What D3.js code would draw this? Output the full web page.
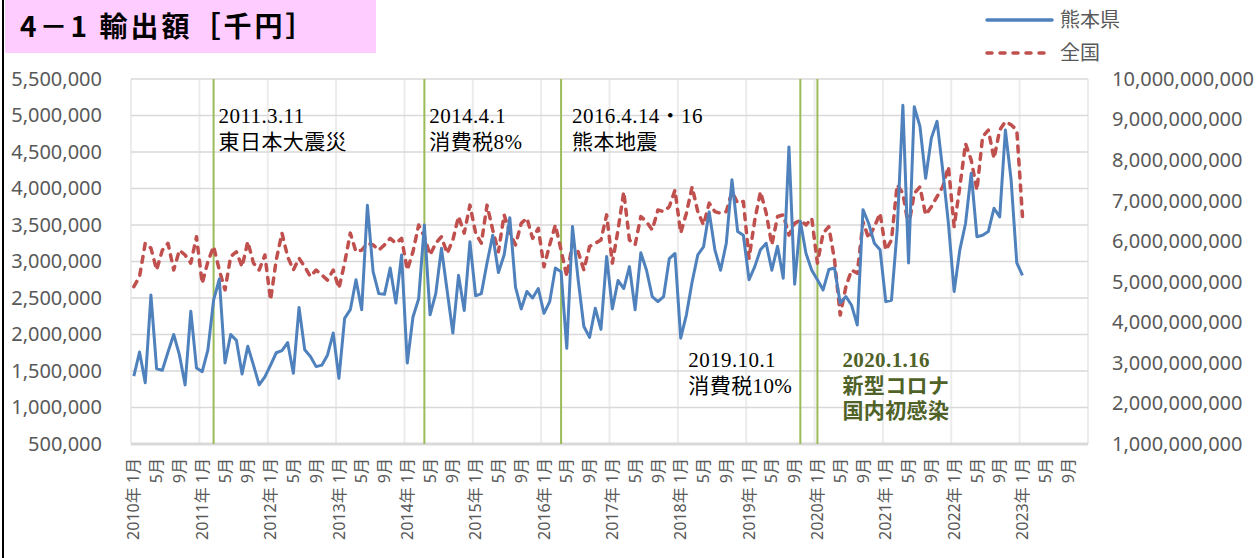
<!DOCTYPE html>
<html>
<head>
<meta charset="utf-8">
<script src="https://cdn.jsdelivr.net/npm/d3@7"></script>
<style>
  body { margin: 0; background: #ffffff; }
  svg { display: block; }
</style>
</head>
<body>
<div id="chart"></div>
<script>
// categories: one per month, 2010/1 .. 2023/12
var years        = [2010, 2011, 2012, 2013, 2014, 2015, 2016, 2017, 2018, 2019, 2020, 2021, 2022, 2023];
var months       = [1, 2, 3, 4, 5, 6, 7, 8, 9, 10, 11, 12];
var label_months = [1, 5, 9];

// 熊本県 (left axis, 千円), monthly from 2010/1 to 2023/1
var kumamoto = [
  1.43e6, 1.76e6, 1.34e6, 2.54e6, 1.53e6, 1.51e6, 1.76e6, 2.00e6, 1.72e6, 1.31e6, 2.32e6, 1.54e6,
  1.49e6, 1.79e6, 2.47e6, 2.76e6, 1.61e6, 2.00e6, 1.92e6, 1.46e6, 1.84e6, 1.58e6, 1.31e6, 1.42e6,
  1.58e6, 1.75e6, 1.78e6, 1.89e6, 1.47e6, 2.37e6, 1.79e6, 1.70e6, 1.56e6, 1.58e6, 1.72e6, 2.02e6,
  1.40e6, 2.22e6, 2.34e6, 2.75e6, 2.34e6, 3.77e6, 2.86e6, 2.56e6, 2.55e6, 2.91e6, 2.43e6, 3.09e6,
  1.61e6, 2.24e6, 2.49e6, 3.50e6, 2.27e6, 2.56e6, 3.18e6, 2.60e6, 2.02e6, 2.81e6, 2.33e6, 3.27e6,
  2.53e6, 2.56e6, 2.98e6, 3.36e6, 2.85e6, 3.09e6, 3.60e6, 2.65e6, 2.35e6, 2.59e6, 2.50e6, 2.63e6,
  2.29e6, 2.45e6, 2.91e6, 2.86e6, 1.81e6, 3.48e6, 2.75e6, 2.11e6, 1.96e6, 2.36e6, 2.07e6, 3.07e6,
  2.35e6, 2.74e6, 2.63e6, 2.93e6, 2.34e6, 3.12e6, 2.88e6, 2.52e6, 2.45e6, 2.52e6, 3.04e6, 3.11e6,
  1.95e6, 2.27e6, 2.72e6, 3.09e6, 3.20e6, 3.68e6, 3.16e6, 2.88e6, 3.25e6, 4.12e6, 3.41e6, 3.36e6,
  2.75e6, 2.93e6, 3.16e6, 3.25e6, 2.88e6, 3.21e6, 2.77e6, 4.57e6, 2.69e6, 3.55e6, 3.11e6, 2.88e6,
  2.75e6, 2.61e6, 2.89e6, 2.91e6, 2.43e6, 2.52e6, 2.40e6, 2.13e6, 3.71e6, 3.52e6, 3.25e6, 3.16e6,
  2.45e6, 2.47e6, 3.43e6, 5.14e6, 2.98e6, 5.12e6, 4.85e6, 4.14e6, 4.69e6, 4.92e6, 4.25e6, 3.52e6,
  2.59e6, 3.16e6, 3.52e6, 4.21e6, 3.34e6, 3.36e6, 3.41e6, 3.73e6, 3.61e6, 4.80e6, 4.12e6, 2.98e6,
  2.81e6
];

// 全国 (right axis, 千円), monthly from 2010/1 to 2023/1
var zenkoku = [
  4.88e9, 5.13e9, 5.95e9, 5.83e9, 5.29e9, 5.78e9, 5.95e9, 5.29e9, 5.78e9, 5.66e9, 5.46e9, 6.11e9,
  4.96e9, 5.50e9, 5.87e9, 5.29e9, 4.80e9, 5.62e9, 5.74e9, 5.37e9, 5.99e9, 5.46e9, 5.29e9, 5.66e9,
  4.55e9, 5.54e9, 6.20e9, 5.62e9, 5.29e9, 5.58e9, 5.37e9, 5.13e9, 5.29e9, 5.17e9, 5.04e9, 5.29e9,
  4.84e9, 5.46e9, 6.20e9, 5.74e9, 5.78e9, 5.95e9, 5.91e9, 5.78e9, 5.91e9, 6.07e9, 5.95e9, 6.07e9,
  5.29e9, 5.74e9, 6.40e9, 6.11e9, 5.66e9, 5.95e9, 6.11e9, 5.70e9, 6.03e9, 6.61e9, 6.20e9, 6.89e9,
  6.20e9, 5.95e9, 6.89e9, 6.28e9, 5.74e9, 6.65e9, 6.20e9, 5.91e9, 6.44e9, 6.57e9, 6.07e9, 6.32e9,
  5.37e9, 5.91e9, 6.40e9, 5.78e9, 5.13e9, 5.95e9, 5.74e9, 5.29e9, 5.87e9, 5.95e9, 6.03e9, 6.65e9,
  5.46e9, 6.28e9, 7.22e9, 6.03e9, 5.91e9, 6.61e9, 6.48e9, 6.28e9, 6.77e9, 6.73e9, 6.85e9, 7.26e9,
  6.20e9, 6.69e9, 7.34e9, 6.73e9, 6.40e9, 6.94e9, 6.73e9, 6.69e9, 6.73e9, 7.22e9, 6.94e9, 6.98e9,
  5.58e9, 6.52e9, 7.22e9, 6.70e9, 5.91e9, 6.61e9, 6.65e9, 6.15e9, 6.44e9, 6.52e9, 6.40e9, 6.57e9,
  5.46e9, 6.20e9, 6.36e9, 5.54e9, 4.18e9, 4.88e9, 5.29e9, 5.21e9, 6.48e9, 6.07e9, 6.36e9, 6.69e9,
  5.78e9, 6.03e9, 7.39e9, 7.18e9, 6.36e9, 7.18e9, 7.34e9, 6.65e9, 6.85e9, 7.10e9, 7.34e9, 7.84e9,
  6.36e9, 7.34e9, 8.41e9, 8.00e9, 7.26e9, 8.58e9, 8.74e9, 8.04e9, 8.74e9, 8.95e9, 8.87e9, 8.74e9,
  6.61e9
];

var left_ticks  = [500000, 1000000, 1500000, 2000000, 2500000, 3000000, 3500000, 4000000, 4500000, 5000000, 5500000];
var right_ticks = [1e9, 2e9, 3e9, 4e9, 5e9, 6e9, 7e9, 8e9, 9e9, 1e10];

var series_names = ['熊本県', '全国'];

// events marked with a green vertical line
var event_months = ['2011-3', '2014-4', '2016-4', '2019-10', '2020-1'];
var event_texts  = [
  ['2011.3.11', '東日本大震災'],
  ['2014.4.1', '消費税8%'],
  ['2016.4.14・16', '熊本地震'],
  ['2019.10.1', '消費税10%'],
  ['2020.1.16', '新型コロナ', '国内初感染']
];

// Chart params
var width  = 1259;
var height = 558;
var plot   = { left: 131, right: 1088, top: 79, bottom: 444 };

var blue  = '#4f81bd';
var red   = '#c0504d';
var green = '#9bbb59';
var grey  = '#595959';
var sans  = '"Noto Sans", "Noto Sans CJK JP", sans-serif';
var serif = '"Liberation Serif", "Noto Sans CJK JP", serif';

var categories = [];
years.forEach(function(y) {
    months.forEach(function(m) {
        categories.push(y + '-' + m);
    });
});

var svg = d3.select('#chart')
    .append('svg')
    .attr('width', width)
    .attr('height', height);

// scales
var x_scale = d3.scaleBand()
    .domain(categories)
    .range([plot.left, plot.right])
    .padding(0);

var y_left = d3.scaleLinear()
    .domain([500000, 5500000])
    .range([plot.bottom, plot.top]);

var y_right = d3.scaleLinear()
    .domain([1e9, 1e10])
    .range([plot.bottom, plot.top]);

function cx(key) {
    return x_scale(key) + x_scale.bandwidth() / 2;
}

// title box and the frame line on the left
svg.append('rect')
    .attr('x', 5).attr('y', 0)
    .attr('width', 371).attr('height', 53)
    .attr('fill', '#ffccff');

svg.append('text')
    .attr('x', 20).attr('y', 37)
    .attr('font-family', '"Noto Sans CJK JP", sans-serif')
    .attr('font-weight', 'bold')
    .attr('font-size', '28px')
    .attr('letter-spacing', '3px')
    .attr('fill', '#000')
    .text('4－1 輸出額［千円］');

svg.append('line')
    .attr('x1', 3).attr('x2', 3)
    .attr('y1', 0).attr('y2', height)
    .attr('stroke', '#000')
    .attr('stroke-width', 2);

// vertical gridlines at each year boundary
var year_edges = years.map(function(y) { return x_scale(y + '-1'); }).concat([plot.right]);
svg.append('g')
    .selectAll('line')
    .data(year_edges)
    .enter()
    .append('line')
    .attr('x1', function(d) { return d; })
    .attr('x2', function(d) { return d; })
    .attr('y1', plot.top)
    .attr('y2', plot.bottom)
    .attr('stroke', '#ececec')
    .attr('stroke-width', 2);

// horizontal gridlines (left axis ticks)
svg.append('g')
    .selectAll('line')
    .data(left_ticks)
    .enter()
    .append('line')
    .attr('x1', plot.left)
    .attr('x2', plot.right)
    .attr('y1', function(d) { return y_left(d); })
    .attr('y2', function(d) { return y_left(d); })
    .attr('stroke', '#d9d9d9')
    .attr('stroke-width', 1.5);

// bottom axis line
svg.append('line')
    .attr('x1', plot.left).attr('x2', plot.right)
    .attr('y1', plot.bottom).attr('y2', plot.bottom)
    .attr('stroke', '#d9d9d9')
    .attr('stroke-width', 3);

// left axis
var left_axis = svg.append('g')
    .attr('transform', 'translate(' + (plot.left - 29) + ',0)')
    .call(d3.axisLeft(y_left).tickValues(left_ticks).tickSize(0).tickPadding(0).tickFormat(d3.format(',')));

// right axis
var right_axis = svg.append('g')
    .attr('transform', 'translate(' + (plot.right + 24) + ',0)')
    .call(d3.axisRight(y_right).tickValues(right_ticks).tickSize(0).tickPadding(0).tickFormat(d3.format(',')));

[left_axis, right_axis].forEach(function(a) {
    a.select('.domain').remove();
    a.selectAll('text')
        .attr('font-family', sans)
        .attr('font-size', '20px')
        .attr('fill', grey);
});

// x axis: only 1月, 5月, 9月 are labelled
var labelled = categories.filter(function(k) {
    return label_months.indexOf(+k.split('-')[1]) >= 0;
});

var x_axis = svg.append('g')
    .attr('transform', 'translate(0,' + plot.bottom + ')')
    .call(d3.axisBottom(x_scale)
        .tickValues(labelled)
        .tickSize(0)
        .tickFormat(function(k) {
            var p = k.split('-');
            return p[1] == '1' ? p[0] + '年 1月' : p[1] + '月';
        }));

x_axis.select('.domain').remove();
x_axis.selectAll('text')
    .attr('transform', 'rotate(-90)')
    .attr('x', -14)
    .attr('y', 0)
    .attr('dy', '0.35em')
    .style('text-anchor', 'end')
    .attr('font-family', sans)
    .attr('font-size', '16px')
    .attr('fill', grey);

// event lines
svg.append('g')
    .selectAll('line')
    .data(event_months)
    .enter()
    .append('line')
    .attr('x1', function(d) { return cx(d); })
    .attr('x2', function(d) { return cx(d); })
    .attr('y1', plot.top)
    .attr('y2', plot.bottom)
    .attr('stroke', green)
    .attr('stroke-width', 2);

// event annotations
var note_x    = [cx('2011-3') + 5, cx('2014-4') + 5, cx('2016-4') + 11, cx('2019-10') - 112, cx('2020-1') + 25];
var note_y    = [123, 123, 123, 367, 367];
var note_fill = ['#000', '#000', '#000', '#000', '#4f6228'];
var note_bold = ['normal', 'normal', 'normal', 'normal', 'bold'];

event_texts.forEach(function(lines, i) {
    var t = svg.append('text')
        .attr('font-family', serif)
        .attr('font-size', '21px')
        .attr('letter-spacing', '0.4px')
        .attr('font-weight', note_bold[i])
        .attr('fill', note_fill[i]);
    lines.forEach(function(s, j) {
        t.append('tspan')
            .attr('x', note_x[i])
            .attr('y', note_y[i] + j * 25.5)
            .text(s);
    });
});

// lines
var kumamoto_line = d3.line()
    .x(function(d, i) { return cx(categories[i]); })
    .y(function(d) { return y_left(d); });

var zenkoku_line = d3.line()
    .x(function(d, i) { return cx(categories[i]); })
    .y(function(d) { return y_right(d); });

svg.append('path')
    .datum(zenkoku)
    .attr('d', zenkoku_line)
    .attr('fill', 'none')
    .attr('stroke', red)
    .attr('stroke-width', 3.5)
    .attr('stroke-dasharray', '6,7')
    .attr('stroke-linecap', 'round')
    .attr('stroke-linejoin', 'round');

svg.append('path')
    .datum(kumamoto)
    .attr('d', kumamoto_line)
    .attr('fill', 'none')
    .attr('stroke', blue)
    .attr('stroke-width', 3)
    .attr('stroke-linejoin', 'round');

// legend
var legend = svg.append('g');
series_names.forEach(function(name, i) {
    var y = 20 + i * 33;
    legend.append('line')
        .attr('x1', 987).attr('x2', 1052)
        .attr('y1', y).attr('y2', y)
        .attr('stroke', i == 0 ? blue : red)
        .attr('stroke-width', 3.5)
        .attr('stroke-linecap', 'round')
        .attr('stroke-dasharray', i == 0 ? null : '5,8');
    legend.append('text')
        .attr('x', 1060).attr('y', y)
        .attr('dy', '0.35em')
        .attr('font-family', sans)
        .attr('font-size', '20px')
        .attr('fill', grey)
        .text(name);
});
</script>
</body>
</html>
